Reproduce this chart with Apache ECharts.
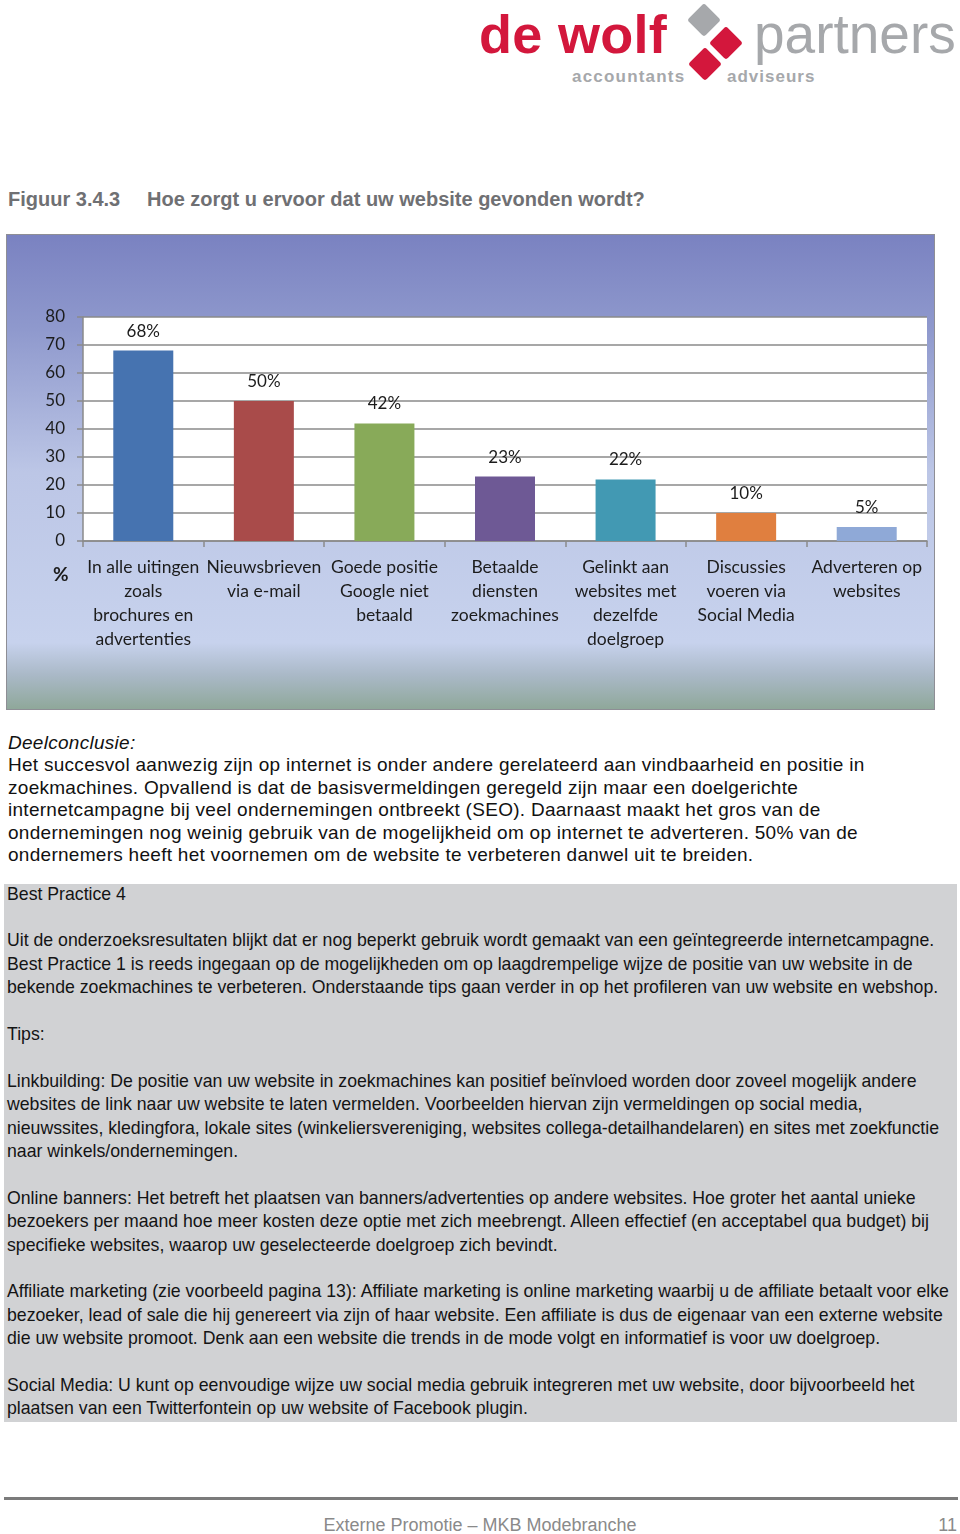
<!DOCTYPE html>
<html>
<head>
<meta charset="utf-8">
<script src="https://cdn.jsdelivr.net/npm/echarts@6/dist/echarts.min.js"></script>
<style>
  html, body { margin: 0; padding: 0; background: #fff; }
  body { width: 960px; height: 1534px; position: relative; overflow: hidden; font-family: "Liberation Sans", Arial, sans-serif; }
  .abs { position: absolute; }
  #logo { left: 470px; top: 0; width: 490px; height: 95px; }
  .title { top: 188px; font-size: 20px; font-weight: bold; color: #6f7073; white-space: pre; }
  #chart { left: 7px; top: 235px; width: 927px; height: 474px; box-shadow: 0 0 0 1px #8e8e95; }
  #concl { left: 8px; top: 731.5px; font-size: 19px; letter-spacing: 0.28px; line-height: 22.6px; color: #111; white-space: pre; }
  #box { left: 4px; top: 884px; width: 953px; height: 538px; background: #d1d2d4; }
  #boxtext { left: 7px; top: 882.5px; font-size: 17.7px; line-height: 23.4px; color: #141414; white-space: pre; }
  #rule { left: 4px; top: 1497px; width: 954px; height: 2.5px; background: #7b7b7b; }
  #foot { left: 0; width: 960px; top: 1515px; text-align: center; font-size: 18px; color: #8a8a8a; }
  #page { right: 3px; top: 1515px; font-size: 18px; color: #8a8a8a; }
</style>
</head>
<body>
<svg id="logo" class="abs" viewBox="470 0 490 95" width="490" height="95">
  <text x="479" y="53" font-family="Liberation Sans, Arial" font-weight="bold" font-size="54" fill="#d3173c" letter-spacing="0.3">de wolf</text>
  <rect x="692" y="8" width="24" height="24" rx="3" fill="#a6a8ab" transform="rotate(45 704 20)"/>
  <rect x="714" y="31" width="24" height="24" rx="3" fill="#d3173c" transform="rotate(45 726 43)"/>
  <rect x="693" y="52" width="24" height="24" rx="3" fill="#d3173c" transform="rotate(45 705 64)"/>
  <text x="754" y="53" font-family="Liberation Sans, Arial" font-size="55" fill="#a6a8ab">partners</text>
  <text x="572" y="82" font-family="Liberation Sans, Arial" font-weight="bold" font-size="17" fill="#a6a8ab" letter-spacing="1.2">accountants</text>
  <text x="727" y="82" font-family="Liberation Sans, Arial" font-weight="bold" font-size="17" fill="#a6a8ab" letter-spacing="1">adviseurs</text>
</svg>

<div class="abs title" style="left:8px">Figuur 3.4.3</div>
<div class="abs title" style="left:147px">Hoe zorgt u ervoor dat uw website gevonden wordt?</div>

<div id="chart" class="abs"></div>

<div id="concl" class="abs"><i>Deelconclusie:</i>
Het succesvol aanwezig zijn op internet is onder andere gerelateerd aan vindbaarheid en positie in
zoekmachines. Opvallend is dat de basisvermeldingen geregeld zijn maar een doelgerichte
internetcampagne bij veel ondernemingen ontbreekt (SEO). Daarnaast maakt het gros van de
ondernemingen nog weinig gebruik van de mogelijkheid om op internet te adverteren. 50% van de
ondernemers heeft het voornemen om de website te verbeteren danwel uit te breiden.</div>

<div id="box" class="abs"></div>
<div id="boxtext" class="abs">Best Practice 4

Uit de onderzoeksresultaten blijkt dat er nog beperkt gebruik wordt gemaakt van een geïntegreerde internetcampagne.
Best Practice 1 is reeds ingegaan op de mogelijkheden om op laagdrempelige wijze de positie van uw website in de
bekende zoekmachines te verbeteren. Onderstaande tips gaan verder in op het profileren van uw website en webshop.

Tips:

Linkbuilding: De positie van uw website in zoekmachines kan positief beïnvloed worden door zoveel mogelijk andere
websites de link naar uw website te laten vermelden. Voorbeelden hiervan zijn vermeldingen op social media,
nieuwssites, kledingfora, lokale sites (winkeliersvereniging, websites collega-detailhandelaren) en sites met zoekfunctie
naar winkels/ondernemingen.

Online banners: Het betreft het plaatsen van banners/advertenties op andere websites. Hoe groter het aantal unieke
bezoekers per maand hoe meer kosten deze optie met zich meebrengt. Alleen effectief (en acceptabel qua budget) bij
specifieke websites, waarop uw geselecteerde doelgroep zich bevindt.

Affiliate marketing (zie voorbeeld pagina 13): Affiliate marketing is online marketing waarbij u de affiliate betaalt voor elke
bezoeker, lead of sale die hij genereert via zijn of haar website. Een affiliate is dus de eigenaar van een externe website
die uw website promoot. Denk aan een website die trends in de mode volgt en informatief is voor uw doelgroep.

Social Media: U kunt op eenvoudige wijze uw social media gebruik integreren met uw website, door bijvoorbeeld het
plaatsen van een Twitterfontein op uw website of Facebook plugin.</div>

<div id="rule" class="abs"></div>
<div id="foot" class="abs">Externe Promotie – MKB Modebranche</div>
<div id="page" class="abs">11</div>

<script>
const categories = [
  "In alle uitingen\nzoals\nbrochures en\nadvertenties",
  "Nieuwsbrieven\nvia e-mail",
  "Goede positie\nGoogle niet\nbetaald",
  "Betaalde\ndiensten\nzoekmachines",
  "Gelinkt aan\nwebsites met\ndezelfde\ndoelgroep",
  "Discussies\nvoeren via\nSocial Media",
  "Adverteren op\nwebsites"
];
const values = [68, 50, 42, 23, 22, 10, 5];
const barColors = ["#4673b0", "#a94b4a", "#88aa59", "#6e5995", "#4299b3", "#e07f3f", "#8fa9d7"];
const yTicks = { min: 0, max: 80, interval: 10 };
const axisUnit = "%";

const chart = echarts.init(document.getElementById('chart'), null, { renderer: 'canvas' });
const font = 'Lato, "Open Sans", sans-serif';
chart.setOption({
  animation: false,
  backgroundColor: {
    type: 'linear', x: 0, y: 0, x2: 0, y2: 1,
    colorStops: [
      { offset: 0, color: '#7a82c1' },
      { offset: 0.2, color: '#8f99cd' },
      { offset: 0.5, color: '#bcc6e6' },
      { offset: 0.86, color: '#c7d2ed' },
      { offset: 0.93, color: '#a9b8c6' },
      { offset: 1, color: '#8fa89a' }
    ]
  },
  grid: { left: 76, right: 7, top: 82, bottom: 168, show: true, backgroundColor: '#ffffff', borderWidth: 0 },
  xAxis: {
    type: 'category',
    data: categories,
    axisLine: { lineStyle: { color: '#8a8a8a', width: 1.5 } },
    axisTick: { show: true, length: 6, lineStyle: { color: '#8a8a8a', width: 1.5 } },
    axisLabel: { interval: 0, fontSize: 17.5, lineHeight: 24, color: '#1c1c1c', margin: 14, fontFamily: font }
  },
  yAxis: {
    type: 'value',
    min: yTicks.min, max: yTicks.max, interval: yTicks.interval,
    axisLine: { show: true, lineStyle: { color: '#8a8a8a', width: 1.5 } },
    axisTick: { show: true, length: 6, lineStyle: { color: '#8a8a8a', width: 1.5 } },
    splitLine: { show: true, lineStyle: { color: '#8a8a8a', width: 1.5 } },
    axisLabel: { fontSize: 17, color: '#1c1c1c', margin: 18, fontFamily: font }
  },
  graphic: [{
    type: 'text', left: 46, top: 330,
    style: { text: axisUnit, fontSize: 19, fontWeight: 'bold', fill: '#1c1c1c', fontFamily: font }
  }],
  series: [{
    type: 'bar',
    barWidth: 60,
    data: values.map((v, i) => ({ value: v, itemStyle: { color: barColors[i] } })),
    label: { show: true, position: 'top', distance: 11, formatter: '{c}%', fontSize: 17, color: '#1c1c1c', fontFamily: font }
  }]
});
</script>
</body>
</html>
